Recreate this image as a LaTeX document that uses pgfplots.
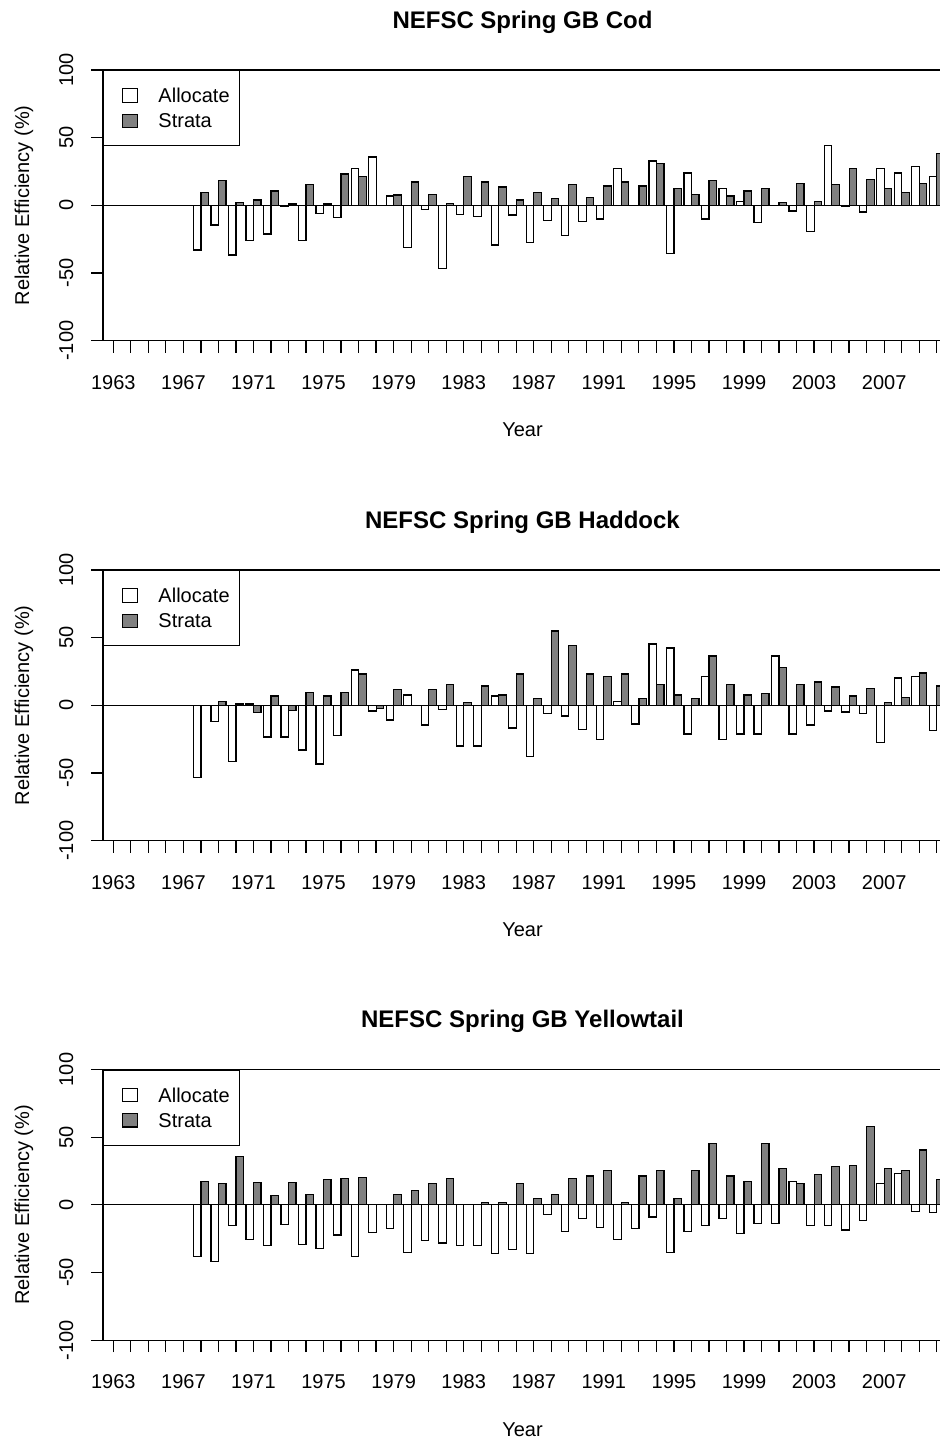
\documentclass[border=0pt]{standalone}
\usepackage{fontspec}
\setmainfont{Liberation Sans}
\usepackage{pgfplots}
\usepackage{pgfplotstable}
\pgfplotsset{compat=1.18}

% relative efficiency (%)
\pgfplotstableread{
year alloc strata
1968 -33.0  9.6
1969 -14.5 18.2
1970 -36.7  2.0
1971 -26.0  3.9
1972 -21.2 10.6
1973  -1.0  1.0
1974 -26.0 15.3
1975  -5.9  1.0
1976  -8.9 23.2
1977  27.1 21.2
1978  35.7  0.0
1979   6.9  7.6
1980 -31.0 17.2
1981  -3.2  7.9
1982 -46.6  1.2
1983  -6.9 21.2
1984  -8.1 17.2
1985 -29.3 13.5
1986  -7.1  3.9
1987 -27.3  9.6
1988 -11.1  4.9
1989 -22.4 15.3
1990 -11.8  5.9
1991 -10.1 14.3
1992  27.1 17.2
1993   0.0 14.3
1994  32.8 30.8
1995 -35.7 12.6
1996  23.9  7.9
1997 -10.1 18.2
1998  12.6  6.9
1999   3.0 10.6
2000 -12.8 12.6
2001   0.0  2.0
2002  -4.2 16.3
2003 -19.5  3.0
2004  44.3 15.3
2005  -1.0 27.1
2006  -4.9 19.2
2007  27.1 12.6
2008  23.9  9.6
2009  28.8 16.3
2010  21.2 38.4
}\codtab

\pgfplotstableread{
year alloc strata
1968 -53.2  0.0
1969 -11.8  3.0
1970 -41.4  1.0
1971   1.0 -5.2
1972 -23.4  6.9
1973 -23.4 -3.9
1974 -33.0  9.6
1975 -43.3  6.9
1976 -22.4  9.6
1977  26.1 23.2
1978  -4.2 -2.2
1979 -10.8 11.6
1980   7.6  0.0
1981 -14.5 11.6
1982  -3.2 15.3
1983 -30.0  2.0
1984 -30.0 14.3
1985   6.9  7.6
1986 -16.7 23.2
1987 -37.9  4.9
1988  -6.2 54.9
1989  -7.9 44.3
1990 -17.7 23.2
1991 -25.4 21.2
1992   3.0 23.2
1993 -13.8  4.9
1994  45.3 15.3
1995  42.4  7.6
1996 -21.2  4.9
1997  21.2 36.5
1998 -25.4 15.3
1999 -21.2  7.6
2000 -21.2  8.6
2001  36.5 27.8
2002 -21.2 15.3
2003 -14.5 17.2
2004  -4.2 13.5
2005  -4.9  6.9
2006  -6.2 12.6
2007 -27.3  2.0
2008  20.2  5.9
2009  21.2 23.9
2010 -18.5 14.3
}\haddocktab

\pgfplotstableread{
year alloc strata
1968 -37.9 17.5
1969 -41.6 15.5
1970 -15.5 35.7
1971 -25.4 16.5
1972 -30.0  6.9
1973 -14.5 16.5
1974 -29.1  7.9
1975 -32.0 18.5
1976 -22.2 19.5
1977 -37.9 20.4
1978 -20.4  0.0
1979 -17.5  7.9
1980 -35.0 10.8
1981 -26.1 15.5
1982 -28.1 19.5
1983 -30.0  0.0
1984 -30.0  2.0
1985 -35.7  2.0
1986 -33.0 15.5
1987 -35.7  4.9
1988  -6.9  7.9
1989 -19.5 19.5
1990  -9.9 21.4
1991 -16.5 25.1
1992 -25.4  2.0
1993 -17.5 21.4
1994  -8.9 25.1
1995 -35.0  4.9
1996 -19.5 25.1
1997 -15.5 45.3
1998  -9.9 21.4
1999 -21.4 17.5
2000 -13.5 45.3
2001 -13.5 27.1
2002  17.5 15.5
2003 -15.5 22.2
2004 -15.5 28.1
2005 -18.5 29.1
2006 -11.6 57.9
2007  15.5 27.1
2008  23.2 25.1
2009  -4.9 40.6
2010  -5.7 18.5
}\yellowtab

\pgfplotsset{
  barimg/.style={legend image code/.code={%
    \path (0pt,0pt);
    \draw[##1, line width=0.6pt] (4.25pt,-3.35pt) rectangle (11.75pt,3.35pt);}},
  allocbar/.style={ybar, bar width=0.428, bar shift=-0.214,
    fill=white, draw=black, line width=0.6pt, barimg},
  stratabar/.style={ybar, bar width=0.428, bar shift=0.214,
    fill=gray, draw=black, line width=0.6pt, barimg},
  panel/.style={
    scale only axis, width=419.5pt, height=135.35pt,
    anchor=north west,
    xmin=1962.41, xmax=2010.30, ymin=-100, ymax=100,
    xtick={1963,1967,...,2007}, minor xtick={1963,...,2010},
    ytick={-100,-50,0,50,100},
    tick align=outside, xtick pos=bottom, ytick pos=left,
    major tick length=6pt, minor tick length=6pt,
    tick style={black, line width=0.6pt},
    axis line style={line width=0.6pt},
    /pgf/number format/1000 sep={},
    /pgf/number format/assume math mode=true,
    tick label style={font=\fontsize{10}{12}\selectfont},
    xticklabel style={anchor=north, inner sep=0pt, yshift=-11pt},
    yticklabel style={rotate=90, anchor=base, inner sep=0pt, yshift=9pt},
    xlabel={Year}, ylabel={Relative Efficiency (\%)},
    label style={font=\fontsize{10}{12}\selectfont},
    xlabel style={at={(axis description cs:0.5,0)}, anchor=base, yshift=-48pt},
    ylabel style={at={(axis description cs:0,0.5)}, anchor=base, yshift=37pt},
    title style={at={(axis description cs:0.5,1)}, anchor=base, yshift=15pt,
      font=\bfseries\fontsize{12}{14}\selectfont},
    legend style={at={(0,1)}, anchor=north west, draw=black, line width=0.6pt,
      fill=white, inner xsep=5.1pt, inner ysep=8.8pt, row sep=5.35pt,
      nodes={inner sep=0pt, text depth=0pt},
      font=\fontsize{10}{12}\selectfont,
      /tikz/every odd column/.append style={column sep=10pt}},
    legend cell align=left,
  },
}

\begin{document}
\begin{tikzpicture}
\useasboundingbox (0pt,0pt) rectangle (470pt,-720.5pt);

\begin{axis}[panel, at={(51.5pt,-35pt)}, title={NEFSC Spring GB Cod}]
  \addplot[allocbar] table[x=year, y=alloc] {\codtab};
  \addplot[stratabar] table[x=year, y=strata] {\codtab};
  \draw[line width=0.6pt] (rel axis cs:0,0.5) -- (rel axis cs:1,0.5);
  \legend{Allocate, Strata}
\end{axis}

\begin{axis}[panel, at={(51.5pt,-285pt)}, title={NEFSC Spring GB Haddock}]
  \addplot[allocbar] table[x=year, y=alloc] {\haddocktab};
  \addplot[stratabar] table[x=year, y=strata] {\haddocktab};
  \draw[line width=0.6pt] (rel axis cs:0,0.5) -- (rel axis cs:1,0.5);
  \legend{Allocate, Strata}
\end{axis}

\begin{axis}[panel, at={(51.5pt,-534.75pt)}, title={NEFSC Spring GB Yellowtail}]
  \addplot[allocbar] table[x=year, y=alloc] {\yellowtab};
  \addplot[stratabar] table[x=year, y=strata] {\yellowtab};
  \draw[line width=0.6pt] (rel axis cs:0,0.5) -- (rel axis cs:1,0.5);
  \legend{Allocate, Strata}
\end{axis}
\end{tikzpicture}
\end{document}
